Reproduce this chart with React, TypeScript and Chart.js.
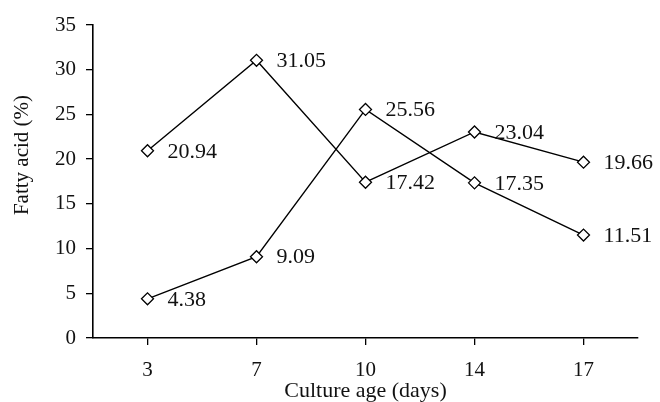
import React, { useEffect, useRef } from "react";
import { Chart, registerables } from "chart.js";

Chart.register(...registerables);

const categories = ["3", "7", "10", "14", "17"];
const seriesA = [20.94, 31.05, 17.42, 23.04, 19.66];
const seriesB = [4.38, 9.09, 25.56, 17.35, 11.51];
const labelsA = ["20.94", "31.05", "17.42", "23.04", "19.66"];
const labelsB = ["4.38", "9.09", "25.56", "17.35", "11.51"];
const xTitle = "Culture age (days)";
const yTitle = "Fatty acid (%)";

const FONT = "'Liberation Serif', 'Times New Roman', serif";

const labelPlugin = {
  id: "pointLabels",
  afterDatasetsDraw(chart: any) {
    const ctx = chart.ctx;
    ctx.save();
    ctx.fillStyle = "#111";
    ctx.font = `22px ${FONT}`;
    ctx.textAlign = "left";
    ctx.textBaseline = "middle";
    const sets = [labelsA, labelsB];
    chart.data.datasets.forEach((_ds: any, di: number) => {
      const meta = chart.getDatasetMeta(di);
      meta.data.forEach((pt: any, i: number) => {
        ctx.fillText(sets[di][i], pt.x + 20, pt.y + 1);
      });
    });
    // y-axis title
    ctx.translate(22, 155);
    ctx.rotate(-Math.PI / 2);
    ctx.textAlign = "center";
    ctx.font = `21px ${FONT}`;
    ctx.fillText(yTitle, 0, 0);
    ctx.restore();
  },
};

export default function App() {
  const ref = useRef<HTMLCanvasElement>(null);
  useEffect(() => {
    document.body.style.margin = "0";
    const ds = (data: number[]) => ({
      data,
      borderColor: "#000",
      borderWidth: 1.4,
      pointStyle: "rectRot" as const,
      pointRadius: 6,
      pointBackgroundColor: "#fff",
      pointBorderColor: "#000",
      pointBorderWidth: 1.3,
      tension: 0,
    });
    const chart = new Chart(ref.current!, {
      type: "line",
      data: { labels: categories, datasets: [ds(seriesA), ds(seriesB)] },
      options: {
        responsive: false,
        animation: false,
        devicePixelRatio: 1,
        layout: { padding: { top: 25, right: 22, left: 0, bottom: 0 } },
        plugins: { legend: { display: false }, tooltip: { enabled: false } },
        scales: {
          x: {
            type: "category",
            offset: true,
            grid: { display: true, drawOnChartArea: false, drawTicks: true, tickLength: 7, offset: false, color: "#000", lineWidth: 1.3 },
            border: { display: true, color: "#000", width: 1.6 },
            ticks: { color: "#111", font: { family: FONT, size: 21 }, padding: 13, maxRotation: 0 },
            title: { display: true, text: xTitle, color: "#111", font: { family: FONT, size: 22 }, padding: { top: 0, bottom: -2 } },
            afterFit: (s: any) => { s.height = 64; },
          },
          y: {
            min: 0,
            max: 35,
            ticks: { stepSize: 5, color: "#111", font: { family: FONT, size: 21 }, padding: 10 },
            grid: { display: true, drawOnChartArea: false, drawTicks: true, tickLength: 7, color: "#000", lineWidth: 1.3 },
            border: { display: true, color: "#000", width: 1.6 },
            afterFit: (s: any) => { s.width = 93; },
          },
        },
      },
      plugins: [labelPlugin],
    });
    return () => chart.destroy();
  }, []);
  return <canvas ref={ref} width={660} height={402} style={{ display: "block" }} />;
}
